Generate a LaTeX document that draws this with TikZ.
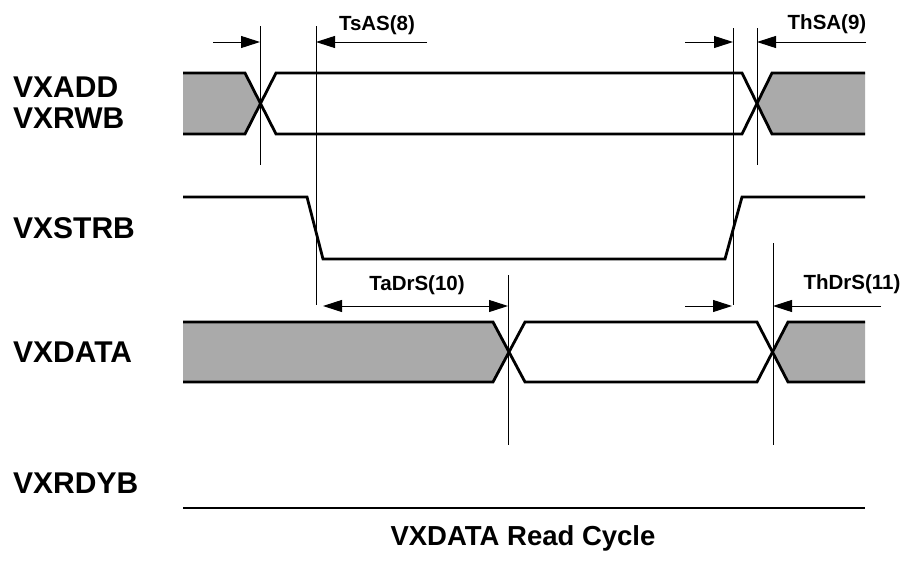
\documentclass[tikz,border=0pt]{standalone}
\usepackage{fontspec}
\setmainfont{Liberation Sans}
\usetikzlibrary{arrows.meta}
\definecolor{busgrey}{RGB}{170,170,170}
\begin{document}
\begin{tikzpicture}[x=1pt,y=-1pt,
  wave/.style={line width=2.8pt},
  tline/.style={line width=1pt},
  dimarrow/.style={line width=1pt, -{Triangle[length=19pt,width=12pt]}},
  dimboth/.style={line width=1pt, {Triangle[length=19pt,width=12pt]}-{Triangle[length=19pt,width=12pt]}},
  siglabel/.style={font=\fontsize{30}{36}\selectfont\bfseries, anchor=base west, inner sep=0pt},
  tlabel/.style={font=\fontsize{20.5}{24}\selectfont\bfseries, anchor=base, inner sep=0pt},
  titlelabel/.style={font=\fontsize{27.5}{32}\selectfont\bfseries, anchor=base, inner sep=0pt},
]
\useasboundingbox (0,0) rectangle (908,565);

% ---------- signal labels ----------
\node[siglabel] (lADD)  at (13,97)  {VXADD};
\node[siglabel] (lRWB)  at (13,128) {VXRWB};
\node[siglabel] (lSTRB) at (13,238) {VXSTRB};
\node[siglabel] (lDATA) at (13,362) {VXDATA};
\node[siglabel] (lRDYB) at (13,493) {VXRDYB};
\node[titlelabel] (title) at (523,545) {VXDATA Read Cycle};

% ---------- VXADD / VXRWB bus ----------
\fill[busgrey] (183,73) -- (245,73) -- (260.5,103.5) -- (245,134) -- (183,134) -- cycle;
\fill[busgrey] (757,103.5) -- (772,73) -- (865,73) -- (865,134) -- (772,134) -- cycle;
\draw[wave] (183,73) -- (245,73) -- (276,134) -- (742,134) -- (772,73) -- (865,73);
\draw[wave] (183,134) -- (245,134) -- (276,73) -- (742,73) -- (772,134) -- (865,134);

% ---------- VXSTRB ----------
\draw[wave] (183,197) -- (307,197) -- (323,259) -- (725,259) -- (742,197) -- (865,197);

% ---------- VXDATA bus ----------
\fill[busgrey] (183,322) -- (493,322) -- (509,352) -- (493,382) -- (183,382) -- cycle;
\fill[busgrey] (772.5,352) -- (788,322) -- (865,322) -- (865,382) -- (788,382) -- cycle;
\draw[wave] (183,322) -- (493,322) -- (525,382) -- (757,382) -- (788,322) -- (865,322);
\draw[wave] (183,382) -- (493,382) -- (525,322) -- (757,322) -- (788,382) -- (865,382);

% ---------- VXRDYB ----------
\draw[wave] (183,508) -- (865,508);

% ---------- timing reference lines ----------
\coordinate (v1t) at (260,26);  \coordinate (v1b) at (260,165);
\coordinate (v2t) at (316,26);  \coordinate (v2b) at (316,305);
\coordinate (v3t) at (733,28);  \coordinate (v3b) at (733,305);
\coordinate (v4t) at (757,28);  \coordinate (v4b) at (757,165);
\coordinate (v5t) at (508,275); \coordinate (v5b) at (508,445);
\coordinate (v6t) at (773,243); \coordinate (v6b) at (773,445);
\draw[tline] (v1t) -- (v1b);
\draw[tline] (v2t) -- (v2b);
\draw[tline] (v3t) -- (v3b);
\draw[tline] (v4t) -- (v4b);
\draw[tline] (v5t) -- (v5b);
\draw[tline] (v6t) -- (v6b);

% ---------- dimension arrows ----------
\coordinate (a1s) at (213,42); \coordinate (a1e) at (260,42);
\coordinate (a2s) at (427,42); \coordinate (a2e) at (316,42);
\coordinate (a3s) at (685,42); \coordinate (a3e) at (733,42);
\coordinate (a4s) at (866,42); \coordinate (a4e) at (757,42);
\coordinate (a5s) at (323,306); \coordinate (a5e) at (508,306);
\coordinate (a6s) at (685,306); \coordinate (a6e) at (732,306);
\coordinate (a7s) at (881,306); \coordinate (a7e) at (773,306);
\draw[dimarrow] (a1s) -- (a1e);
\draw[dimarrow] (a2s) -- (a2e);
\draw[dimarrow] (a3s) -- (a3e);
\draw[dimarrow] (a4s) -- (a4e);
\draw[dimboth]  (a5s) -- (a5e);
\draw[dimarrow] (a6s) -- (a6e);
\draw[dimarrow] (a7s) -- (a7e);

% ---------- timing labels ----------
\node[tlabel] (tsas)  at (377,30)  {TsAS(8)};
\node[tlabel] (thsa)  at (827,29)  {ThSA(9)};
\node[tlabel] (tadrs) at (417,290) {TaDrS(10)};
\node[tlabel] (thdrs) at (852,289) {ThDrS(11)};
\end{tikzpicture}
\end{document}
